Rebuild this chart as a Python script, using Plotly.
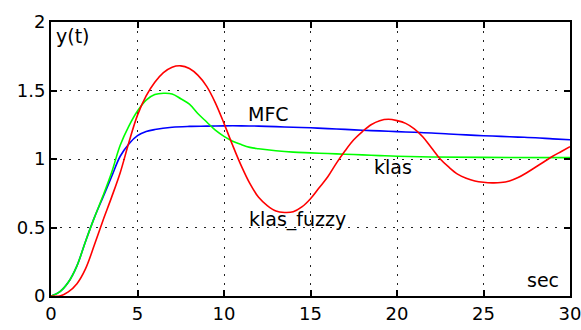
import plotly.graph_objects as go

# MFC (blue)
t_mfc = [0, 0.5, 1, 1.5, 2, 2.5, 3, 3.5, 4, 4.5, 5, 5.5, 6, 7, 8, 9, 10, 11, 12, 13, 14, 15,
         16, 17, 18, 19, 20, 21, 22, 23, 24, 25, 26, 27, 28, 29, 30]
y_mfc = [0, 0.03, 0.1, 0.22, 0.4, 0.57, 0.72, 0.87, 1.02, 1.11, 1.17, 1.2, 1.215, 1.232, 1.238,
         1.24, 1.242, 1.242, 1.24, 1.236, 1.232, 1.228, 1.222, 1.216, 1.21, 1.205, 1.2, 1.195,
         1.19, 1.182, 1.176, 1.17, 1.165, 1.16, 1.155, 1.147, 1.14]

# klas (green)
t_klas = [0, 0.5, 1, 1.5, 2, 2.5, 3, 3.5, 4, 4.5, 5, 5.5, 6, 6.5, 7, 7.5, 8, 8.5, 9, 9.5, 10,
          10.5, 11, 11.5, 12, 13, 14, 15, 16, 17, 18, 19, 20, 22, 25, 30]
y_klas = [0, 0.03, 0.1, 0.22, 0.4, 0.57, 0.73, 0.9, 1.1, 1.24, 1.35, 1.43, 1.47, 1.48, 1.475,
          1.44, 1.4, 1.33, 1.27, 1.21, 1.165, 1.13, 1.105, 1.085, 1.075, 1.06, 1.05, 1.045,
          1.04, 1.035, 1.03, 1.025, 1.02, 1.015, 1.012, 1.01]

# klas_fuzzy (red)
t_fuzzy = [0, 0.5, 1, 1.5, 2, 2.5, 3, 3.5, 4, 4.5, 5, 5.5, 6, 6.5, 7, 7.5, 8, 8.5, 9, 9.5, 10,
           10.5, 11, 11.5, 12, 12.5, 13, 13.5, 14, 14.5, 15, 15.5, 16, 16.5, 17, 17.5, 18, 18.5,
           19, 19.5, 20, 20.5, 21, 21.5, 22, 22.5, 23, 23.5, 24, 24.5, 25, 25.5, 26, 26.5, 27,
           27.5, 28, 28.5, 29, 29.5, 30]
y_fuzzy = [0, 0, 0.03, 0.09, 0.2, 0.37, 0.55, 0.72, 0.9, 1.12, 1.32, 1.46, 1.56, 1.63, 1.67,
           1.68, 1.66, 1.61, 1.53, 1.41, 1.26, 1.1, 0.95, 0.82, 0.72, 0.66, 0.62, 0.61, 0.615,
           0.65, 0.71, 0.79, 0.87, 0.97, 1.06, 1.14, 1.2, 1.25, 1.28, 1.29, 1.28, 1.26, 1.22,
           1.16, 1.08, 1.0, 0.94, 0.89, 0.86, 0.84, 0.83, 0.826, 0.828, 0.84, 0.865, 0.9, 0.94,
           0.98, 1.02, 1.055, 1.09]

x_ticks = [0, 5, 10, 15, 20, 25, 30]
y_ticks = [0, 0.5, 1, 1.5, 2]
y_tick_text = ["0", "0.5", "1", "1.5", "2"]

labels = ["y(t)", "MFC", "klas", "klas_fuzzy", "sec"]

fig = go.Figure()
fig.add_trace(go.Scatter(x=t_mfc, y=y_mfc, mode="lines", line=dict(color="#0000ff", width=1.6),
                         line_shape="spline", name="MFC"))
fig.add_trace(go.Scatter(x=t_klas, y=y_klas, mode="lines", line=dict(color="#00ff00", width=1.6),
                         line_shape="spline", name="klas"))
fig.add_trace(go.Scatter(x=t_fuzzy, y=y_fuzzy, mode="lines", line=dict(color="#ff0000", width=1.6),
                         line_shape="spline", name="klas_fuzzy"))

font_txt = dict(family="DejaVu Sans", size=19, color="black")
ann = [
    dict(x=0.15, y=1.9, text=labels[0], xanchor="left", yanchor="middle"),
    dict(x=12.57, y=1.325, text=labels[1], xanchor="center", yanchor="middle"),
    dict(x=19.75, y=0.94, text=labels[2], xanchor="center", yanchor="middle"),
    dict(x=14.27, y=0.558, text=labels[3], xanchor="center", yanchor="middle"),
    dict(x=28.43, y=0.12, text=labels[4], xanchor="center", yanchor="middle"),
]
for a in ann:
    a.update(xref="x", yref="y", showarrow=False, font=font_txt)

axis_common = dict(
    showline=True, linecolor="black", linewidth=1.8, mirror="ticks",
    ticks="inside", ticklen=6, tickwidth=1.5, tickcolor="black",
    showgrid=True, gridcolor="#222222", gridwidth=1.3, griddash="1.5px,7.5px",
    zeroline=False, automargin=False, ticklabeloverflow="allow",
    tickfont=dict(family="DejaVu Sans", size=18, color="black"),
)

fig.update_layout(
    width=581, height=330,
    margin=dict(l=51, r=11, t=22, b=34),
    paper_bgcolor="white", plot_bgcolor="white",
    showlegend=False,
    annotations=ann,
    xaxis=dict(range=[0, 30], tickvals=x_ticks, ticktext=[str(v) for v in x_ticks], **axis_common),
    yaxis=dict(range=[0, 2], tickvals=y_ticks, ticktext=y_tick_text, **axis_common),
)

fig.write_html("out.html", config={"displayModeBar": False},
               post_script="document.body.style.margin='0';")
